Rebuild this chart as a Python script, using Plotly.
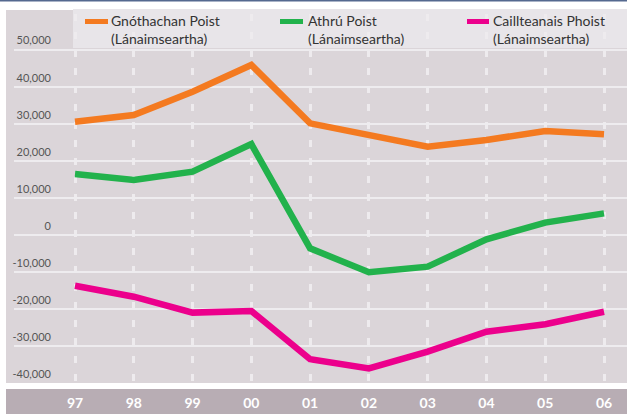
import plotly.graph_objects as go

# ---- data ----
YEARS = ["97", "98", "99", "00", "01", "02", "03", "04", "05", "06"]
SERIES_NAMES = [
    "Gnóthachan Poist (Lánaimseartha)",
    "Athrú Poist (Lánaimseartha)",
    "Caillteanais Phoist (Lánaimseartha)",
]
JOB_GAINS = [30550, 32350, 38650, 45850, 30100, 26950, 23800, 25600, 28050, 27150]
JOB_CHANGE = [16400, 14800, 17050, 24500, -3650, -10100, -8600, -1200, 3300, 5800]
JOB_LOSSES = [-13750, -16700, -21000, -20550, -33600, -36050, -31550, -26150, -24150, -20750]
Y_TICK_VALUES = [50000, 40000, 30000, 20000, 10000, 0, -10000, -20000, -30000, -40000]
Y_TICK_LABELS = ["50,000", "40,000", "30,000", "20,000", "10,000", "0",
                 "-10,000", "-20,000", "-30,000", "-40,000"]

# ---- styling / layout ----
W, H = 627, 414
ML, MR, MT, MB = 14, 0, 10, 31
PW, PH = W - ML - MR, H - MT - MB
COLORS = ["#f47a20", "#22b24c", "#ec008c"]
PANEL = "#dbd5d9"
LEGEND_BG = "#e8e5e9"
BAND = "#b8adb4"
FONT = "Lato, 'Open Sans', sans-serif"


def px(x):
    return (x - ML) / PW


def py(y):
    return (MT + PH - y) / PH


fig = go.Figure()
for name, vals, col in zip(SERIES_NAMES, [JOB_GAINS, JOB_CHANGE, JOB_LOSSES], COLORS):
    fig.add_trace(go.Scatter(x=YEARS, y=vals, name=name, mode="lines",
                             line=dict(color=col, width=6.5), cliponaxis=False,
                             hoverinfo="skip"))

shapes = [
    dict(type="rect", xref="paper", yref="paper", x0=px(6), x1=0.001, y0=0, y1=1,
         fillcolor=PANEL, line_width=0, layer="below"),
    dict(type="rect", xref="paper", yref="paper", x0=px(6), x1=1, y0=py(420), y1=py(389),
         fillcolor=BAND, line_width=0, layer="below"),
    dict(type="rect", xref="paper", yref="paper", x0=px(73), x1=1, y0=py(48), y1=py(9),
         fillcolor=LEGEND_BG, line_width=0, layer="between"),
    dict(type="line", xref="paper", yref="paper", x0=px(0), x1=1, y0=py(0.7), y1=py(0.7),
         line=dict(color="#55698f", width=1.5), layer="above"),
]
annotations = []
legend_pos = [(85, 108, 109), (280, 303, 306), (467, 489, 491)]
for (sx0, sx1, tx), name, col in zip(legend_pos, SERIES_NAMES, COLORS):
    shapes.append(dict(type="line", xref="paper", yref="paper", x0=px(sx0), x1=px(sx1),
                       y0=py(21.5), y1=py(21.5), line=dict(color=col, width=5),
                       layer="above"))
    annotations.append(dict(xref="paper", yref="paper", x=px(tx), y=py(29.5),
                            xanchor="left", yanchor="middle", align="left",
                            text=name.replace(" (", "<br>("), showarrow=False,
                            font=dict(family=FONT, size=14, color="#333333")))

step = (604 - 75) / 9
fig.update_layout(
    width=W, height=H,
    margin=dict(l=ML, r=MR, t=MT, b=MB),
    paper_bgcolor="white", plot_bgcolor=PANEL,
    showlegend=False, hovermode=False,
    shapes=shapes, annotations=annotations,
    xaxis=dict(type="category", range=[-(75 - ML) / step, 9 + (W - 604) / step],
               showgrid=True, gridcolor="#eeebee", gridwidth=2.5,
               griddash="0px,4px,7px,7px", zeroline=False, showline=False,
               ticks="", ticklabelstandoff=10,
               tickfont=dict(family=FONT, size=14, color="white", weight="bold")),
    yaxis=dict(range=[-40000, 60700], tickmode="array", tickvals=Y_TICK_VALUES,
               ticktext=Y_TICK_LABELS, showgrid=True, gridcolor="#eeecef",
               gridwidth=1.5, zeroline=False, showline=False, ticks="",
               ticklabelstandoff=-38, ticklabelshift=-9, automargin=False,
               tickfont=dict(family=FONT, size=11, color="#555555")),
)

fig.write_html("out.html", config={"displayModeBar": False},
               post_script="document.body.style.margin='0px';"
                           "document.body.style.overflow='hidden';")
